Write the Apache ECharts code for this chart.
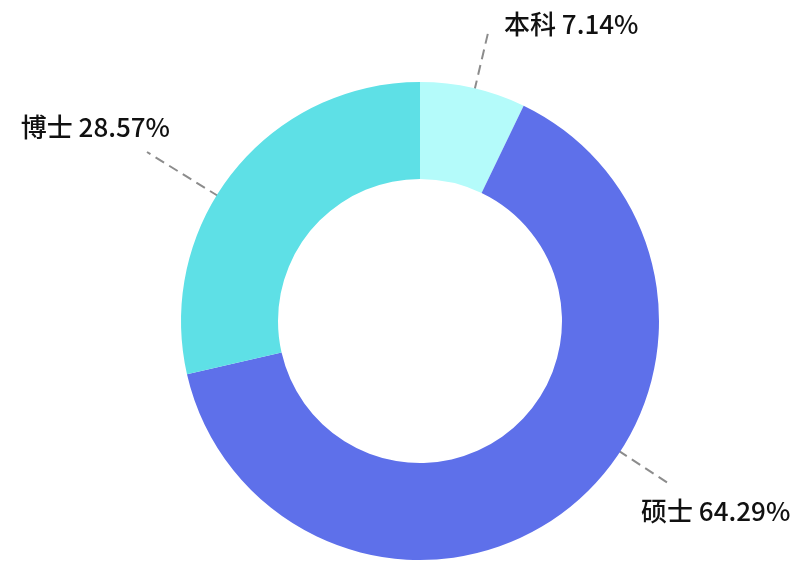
<!DOCTYPE html>
<html><head><meta charset="utf-8">
<script src="https://cdn.jsdelivr.net/npm/echarts@6/dist/echarts.min.js"></script>
<style>html,body{margin:0;padding:0;background:#fff}#c{width:800px;height:575px}</style>
</head><body><div id="c"></div>
<script>
const categories = ['本科', '硕士', '博士'];
const values = [7.14, 64.29, 28.57];
const colors = ['#b4fbfa', '#5e70ea', '#5ee0e6'];
// label anchor positions and guide-line ends (layout only)
const labelPos = [
  {x: 504, y: 24, align: 'left', lineEnd: [488, 33]},
  {x: 641, y: 511, align: 'left', lineEnd: [671, 485]},
  {x: 170, y: 127, align: 'right', lineEnd: [147, 152]}
];
const CX = 420, CY = 321, R0 = 142, R1 = 239;
const chart = echarts.init(document.getElementById('c'));
chart.setOption({
  animation: false,
  series: [{
    type: 'pie',
    center: [CX, CY],
    radius: [R0, R1],
    startAngle: 90,
    clockwise: true,
    data: categories.map((n, i) => ({name: n, value: values[i], itemStyle: {color: colors[i]}})),
    label: {
      show: true,
      formatter: p => p.name + ' ' + p.value.toFixed(2) + '%',
      fontSize: 26,
      color: '#111',
      fontFamily: 'Noto Sans CJK SC',
      fontWeight: 500
    },
    labelLine: {
      show: true,
      length: 40,
      length2: 0,
      lineStyle: {color: '#8c8c8c', width: 2, type: [10, 6]}
    },
    labelLayout: p => {
      const lp = labelPos[p.dataIndex];
      const e = lp.lineEnd;
      const dx = e[0] - CX, dy = e[1] - CY, d = Math.sqrt(dx * dx + dy * dy);
      const s = [CX + dx / d * (R1 - 2), CY + dy / d * (R1 - 2)];
      return {x: lp.x, y: lp.y, align: lp.align, verticalAlign: 'middle',
              labelLinePoints: [s, s, e]};
    }
  }]
});
</script></body></html>
